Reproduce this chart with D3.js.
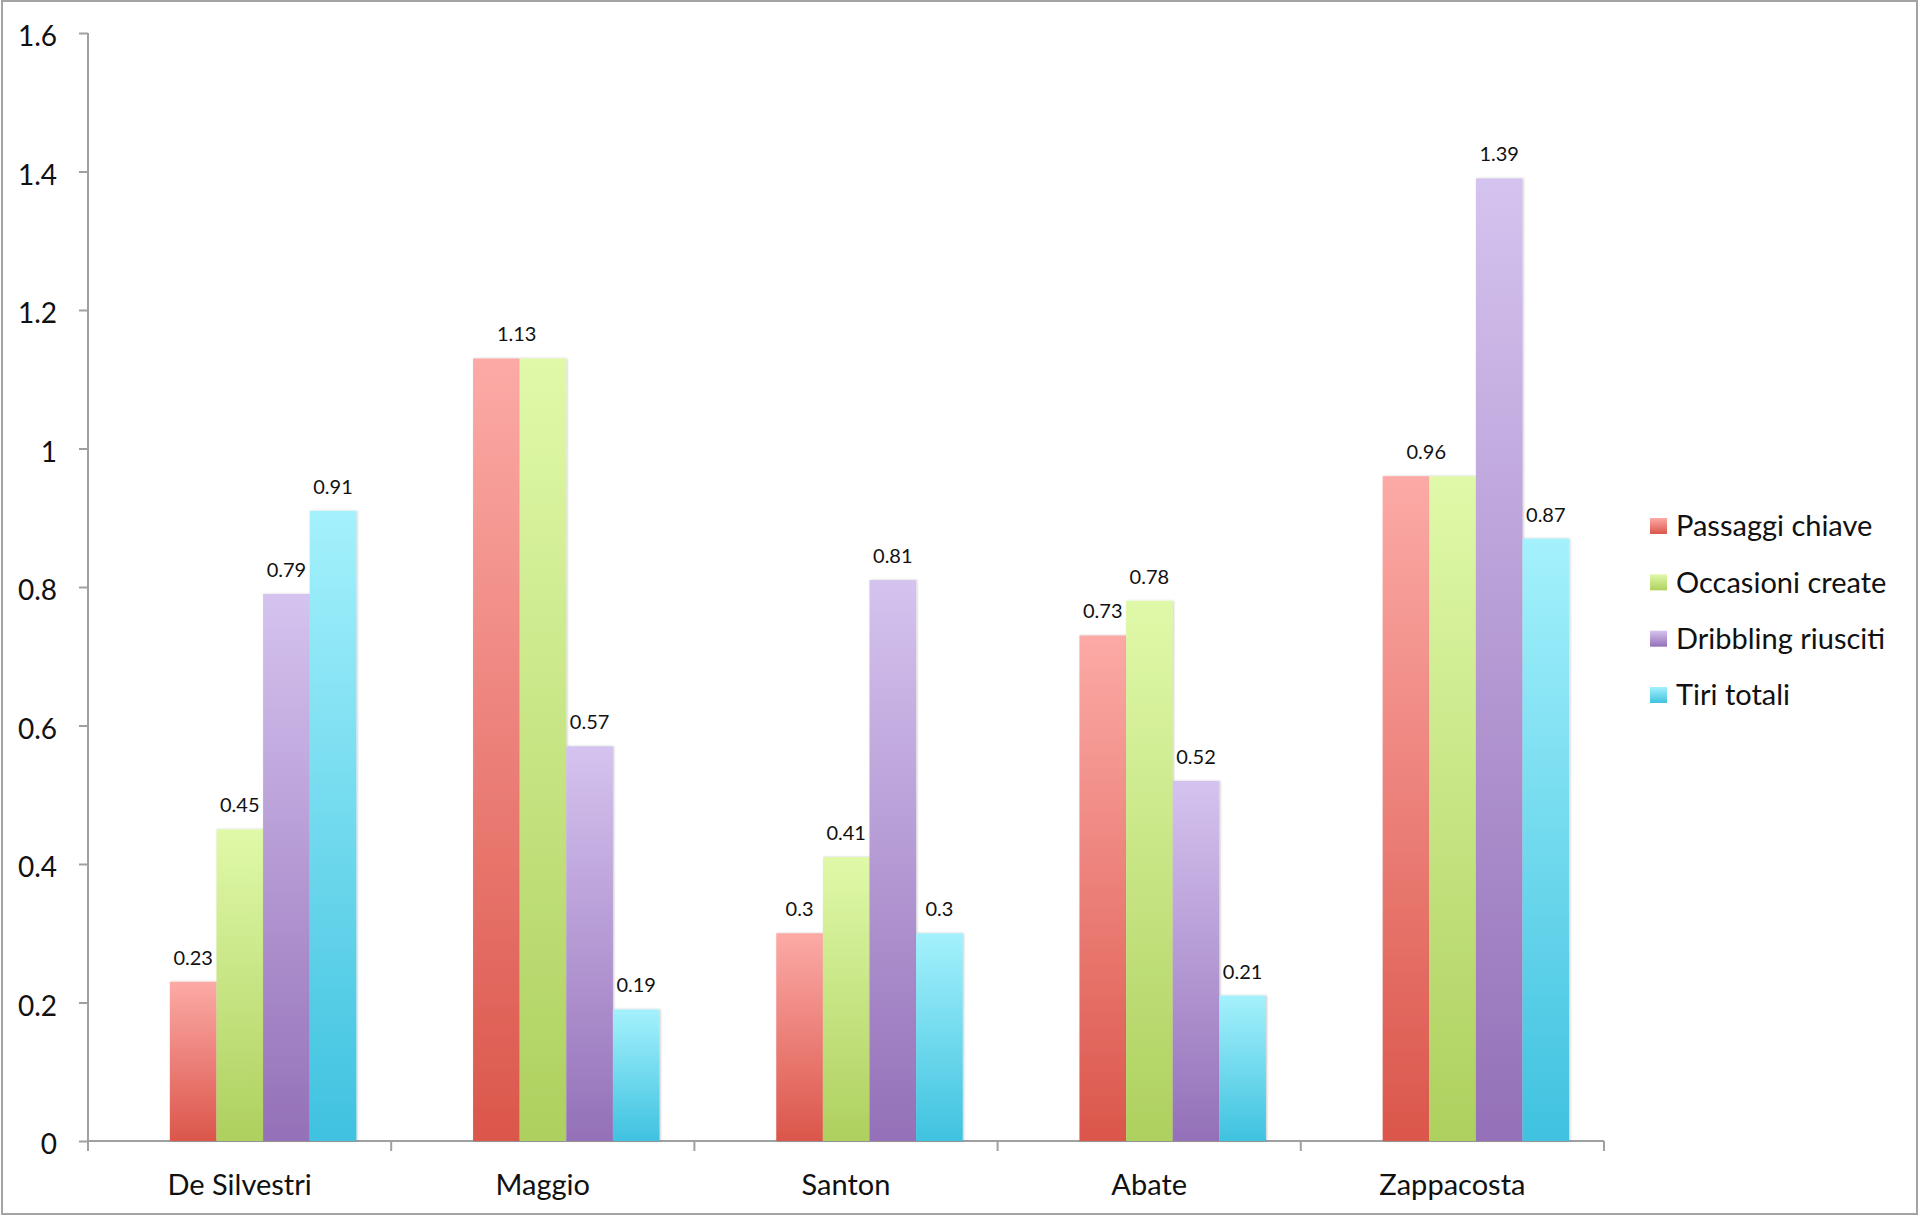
<!DOCTYPE html>
<html>
<head>
<meta charset="utf-8">
<script src="https://cdn.jsdelivr.net/npm/d3@7"></script>
<style>
  html, body { margin: 0; padding: 0; background: #fff; }
  svg { display: block; }
  text { font-family: Lato, "Open Sans", sans-serif; fill: #111; }
</style>
</head>
<body>
<svg id="chart" width="1920" height="1216"></svg>
<script>
// ---- data ----
const categories = ["De Silvestri", "Maggio", "Santon", "Abate", "Zappacosta"];
const seriesNames = ["Passaggi chiave", "Occasioni create", "Dribbling riusciti", "Tiri totali"];
const passaggiChiave   = [0.23, 1.13, 0.3, 0.73, 0.96];
const occasioniCreate  = [0.45, 1.13, 0.41, 0.78, 0.96];
const dribblingRiusciti = [0.79, 0.57, 0.81, 0.52, 1.39];
const tiriTotali       = [0.91, 0.19, 0.3, 0.21, 0.87];
const yTickValues = [0, 0.2, 0.4, 0.6, 0.8, 1, 1.2, 1.4, 1.6];
const yTickLabels = ["0", "0.2", "0.4", "0.6", "0.8", "1", "1.2", "1.4", "1.6"];

const seriesValues = [passaggiChiave, occasioniCreate, dribblingRiusciti, tiriTotali];
const colorsTop = ["#fcaaa6", "#e0f9a9", "#d5c3ef", "#a4f1fc"];
const colorsBottom = ["#db564b", "#aed05e", "#9470b8", "#3fc2e0"];

// ---- layout ----
const svg = d3.select("#chart");
const axisX = 88, plotRight = 1604, plotTop = 33, plotBottom = 1141;

const x0 = d3.scaleBand().domain(categories).range([axisX, plotRight]).padding(0);
const bw = x0.bandwidth();
const x1 = d3.scaleBand().domain(seriesNames).range([bw * 0.27, bw * 0.885]).padding(0);
const y = d3.scaleLinear().domain([0, 1.6]).range([plotBottom, plotTop]);

// defs: gradients & shadow
const defs = svg.append("defs");
seriesNames.forEach((s, i) => {
  const g = defs.append("linearGradient").attr("id", "grad" + i)
    .attr("x1", 0).attr("y1", 0).attr("x2", 0).attr("y2", 1);
  g.append("stop").attr("offset", "0%").attr("stop-color", colorsTop[i]);
  g.append("stop").attr("offset", "100%").attr("stop-color", colorsBottom[i]);
});
const f = defs.append("filter").attr("id", "shadow").attr("x", "-10%").attr("y", "-5%").attr("width", "130%").attr("height", "110%");
f.append("feDropShadow").attr("dx", 1).attr("dy", 0).attr("stdDeviation", 1.2)
  .attr("flood-color", "#000").attr("flood-opacity", 0.22);

// outer border
svg.append("rect").attr("x", 2).attr("y", 1).attr("width", 1915).attr("height", 1213)
  .attr("fill", "none").attr("stroke", "#a3a3a3").attr("stroke-width", 2);

// y axis
const yAxis = d3.axisLeft(y).tickValues(yTickValues)
  .tickFormat((d, i) => yTickLabels[i]).tickSize(9).tickPadding(22);
const gy = svg.append("g").attr("transform", `translate(${axisX},0)`).call(yAxis);
gy.select(".domain").attr("stroke", "#a0a0a0").attr("stroke-width", 2)
  .attr("d", `M0,${plotTop}V${plotBottom + 10}`);
gy.selectAll(".tick line").attr("stroke", "#a0a0a0").attr("stroke-width", 2);
gy.selectAll(".tick text").attr("font-size", 28).attr("font-family", "Lato, sans-serif").attr("fill", "#111")
  .attr("dy", "0.46em");

// x axis
const xAxis = d3.axisBottom(x0).tickSize(0).tickPadding(33);
const gx = svg.append("g").attr("transform", `translate(0,${plotBottom})`).call(xAxis);
gx.select(".domain").attr("stroke", "#a0a0a0").attr("stroke-width", 2)
  .attr("d", `M${axisX},0H${plotRight}`);
gx.selectAll(".tick text").attr("font-size", 29).attr("font-family", "Lato, sans-serif").attr("fill", "#111")
  .attr("dy", "0.71em");
const boundaries = categories.map(c => x0(c)).concat([plotRight]);
gx.selectAll(".bound").data(boundaries).enter().append("line").attr("class", "bound")
  .attr("x1", d => d).attr("x2", d => d).attr("y1", 0).attr("y2", 10)
  .attr("stroke", "#a0a0a0").attr("stroke-width", 2);

// bars
const barData = [];
categories.forEach((c, ci) => {
  seriesNames.forEach((s, si) => {
    barData.push({ c, s, si, v: seriesValues[si][ci], ci });
  });
});

svg.append("g").selectAll("rect").data(barData).enter().append("rect")
  .attr("x", d => x0(d.c) + x1(d.s))
  .attr("y", d => y(d.v))
  .attr("width", x1.bandwidth())
  .attr("height", d => y(0) - y(d.v))
  .attr("fill", d => `url(#grad${d.si})`)
  .attr("filter", "url(#shadow)");

// value labels (equal adjacent values share one label)
const labelData = barData.filter(d => !(d.si > 0 && seriesValues[d.si - 1][d.ci] === d.v));
svg.append("g").selectAll("text").data(labelData).enter().append("text")
  .attr("x", d => {
    const next = d.si < seriesNames.length - 1 ? seriesValues[d.si + 1][d.ci] : null;
    if (next === d.v) return x0(d.c) + x1(d.s) + x1.bandwidth() - 3;
    return x0(d.c) + x1(d.s) + x1.bandwidth() / 2;
  })
  .attr("y", d => y(d.v) - 17)
  .attr("text-anchor", "middle")
  .attr("font-size", 20)
  .text(d => String(d.v));

// legend
const legendY = d3.scalePoint().domain(seriesNames).range([526, 695]);
const lg = svg.append("g");
const items = lg.selectAll("g").data(seriesNames).enter().append("g")
  .attr("transform", d => `translate(1650,${legendY(d)})`);
items.append("rect").attr("x", 0).attr("y", -8).attr("width", 17).attr("height", 16)
  .attr("fill", (d, i) => `url(#grad${i})`);
items.append("text").attr("x", 26).attr("y", 0).attr("dy", "0.36em")
  .attr("font-size", 29).text(d => d);
</script>
</body>
</html>
